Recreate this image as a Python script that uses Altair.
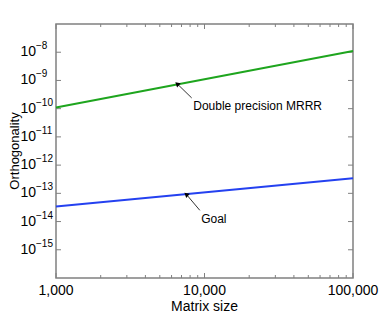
import altair as alt
import pandas as pd

# ---- data ----
sizes = [1000, 100000]
mrrr = [1.1e-10, 1.1e-8]
goal = [3.4e-14, 3.4e-13]

x_major = [1000, 10000, 100000]
x_labels = ["1,000", "10,000", "100,000"]
x_minor = [2000, 3000, 4000, 5000, 6000, 7000, 8000, 9000,
           20000, 30000, 40000, 50000, 60000, 70000, 80000, 90000]
y_exps = [-15, -14, -13, -12, -11, -10, -9, -8]

ann_text = ["Double precision MRRR", "Goal"]
ann_head_x = [6600, 7600]
ann_head_y = [7.3e-10, 8.8e-14]
ann_tail_x = [8200, 9300]
ann_tail_y = [2.4e-10, 2.5e-14]
ann_text_x = [8400, 9500]
ann_text_y = [1.2e-10, 1.25e-14]

FONT = "Liberation Sans"
W, H = 297, 254

xs = alt.Scale(type="log", domain=[1000, 100000])
ys = alt.Scale(type="log", domain=[1e-16, 1e-7])

lines = pd.DataFrame({
    "size": sizes * 2,
    "val": mrrr + goal,
    "series": ["MRRR"] * 2 + ["Goal"] * 2,
})

X = alt.X("size:Q", scale=xs, axis=None)
Y = alt.Y("val:Q", scale=ys, axis=None)

line_layer = alt.Chart(lines).mark_line(strokeWidth=2).encode(
    x=X, y=Y,
    color=alt.Color("series:N", scale=alt.Scale(domain=["MRRR", "Goal"],
                                               range=["#1ea51e", "#2441f0"]),
                    legend=None),
)

# x labels and title
xlab = pd.DataFrame({"size": x_major, "lab": x_labels})
x_lab_layer = alt.Chart(xlab).mark_text(font=FONT, fontSize=14, align="center",
                                        baseline="alphabetic", color="#000").encode(
    x=alt.X("size:Q", scale=xs, axis=None), y=alt.value(H + 17), text="lab:N")
xtitle = alt.Chart(pd.DataFrame({"t": ["Matrix size"]})).mark_text(
    font=FONT, fontSize=14, align="center", baseline="alphabetic", color="#000"
).encode(x=alt.value(W / 2), y=alt.value(H + 33), text="t:N")

# ticks (inward) on x: bottom and top
tick_col = "#808080"
xt_major = pd.DataFrame({"size": x_major})
xt_minor = pd.DataFrame({"size": x_minor})
xtb_major = alt.Chart(xt_major).mark_rule(color=tick_col, strokeWidth=1).encode(
    x=alt.X("size:Q", scale=xs, axis=None), y=alt.value(H), y2=alt.value(H - 5))
xtb_minor = alt.Chart(xt_minor).mark_rule(color=tick_col, strokeWidth=1).encode(
    x=alt.X("size:Q", scale=xs, axis=None), y=alt.value(H), y2=alt.value(H - 3))
xtt_major = alt.Chart(xt_major).mark_rule(color=tick_col, strokeWidth=1).encode(
    x=alt.X("size:Q", scale=xs, axis=None), y=alt.value(0), y2=alt.value(5))
xtt_minor = alt.Chart(xt_minor).mark_rule(color=tick_col, strokeWidth=1).encode(
    x=alt.X("size:Q", scale=xs, axis=None), y=alt.value(0), y2=alt.value(3))

# y ticks and labels
yt = pd.DataFrame({"val": [10.0 ** e for e in y_exps],
                   "exp": ["\u2212" + str(-e) for e in y_exps]})
ytl = alt.Chart(yt).mark_rule(color=tick_col, strokeWidth=1).encode(
    y=alt.Y("val:Q", scale=ys, axis=None), x=alt.value(0), x2=alt.value(5))
ytr = alt.Chart(yt).mark_rule(color=tick_col, strokeWidth=1).encode(
    y=alt.Y("val:Q", scale=ys, axis=None), x=alt.value(W), x2=alt.value(W - 5))
ybase = alt.Chart(yt).mark_text(font=FONT, fontSize=14, align="right",
                                baseline="middle", color="#000").encode(
    y=alt.Y("val:Q", scale=ys, axis=None), x=alt.value(-20), text=alt.value("10"))
yexp = alt.Chart(yt).mark_text(font=FONT, fontSize=10, align="left",
                               baseline="middle", color="#000", dy=-6).encode(
    y=alt.Y("val:Q", scale=ys, axis=None), x=alt.value(-20), text="exp:N")

ytitle = alt.Chart(pd.DataFrame({"t": ["Orthogonality"]})).mark_text(
    font=FONT, fontSize=13, angle=270, align="center", baseline="alphabetic",
    color="#000").encode(x=alt.value(-37), y=alt.value(H / 2), text="t:N")

# annotations
ann = pd.DataFrame({"text": ann_text, "hx": ann_head_x, "hy": ann_head_y,
                    "tx": ann_tail_x, "ty": ann_tail_y,
                    "lx": ann_text_x, "ly": ann_text_y})
arrow_line = alt.Chart(ann).mark_rule(color="#000", strokeWidth=0.8).encode(
    x=alt.X("hx:Q", scale=xs, axis=None), y=alt.Y("hy:Q", scale=ys, axis=None),
    x2="tx:Q", y2="ty:Q")
arrow_head = alt.Chart(ann).mark_point(shape="triangle", filled=True, color="#000",
                                       size=30, angle=311, opacity=1).encode(
    x=alt.X("hx:Q", scale=xs, axis=None), y=alt.Y("hy:Q", scale=ys, axis=None))
ann_label = alt.Chart(ann).mark_text(font=FONT, fontSize=12, align="left",
                                     baseline="middle", color="#000").encode(
    x=alt.X("lx:Q", scale=xs, axis=None), y=alt.Y("ly:Q", scale=ys, axis=None),
    text="text:N")

chart = alt.layer(
    xtb_major, xtb_minor, xtt_major, xtt_minor, ytl, ytr,
    line_layer, x_lab_layer, xtitle, ybase, yexp, ytitle,
    arrow_line, arrow_head, ann_label,
).properties(
    width=W, height=H,
    autosize=alt.AutoSizeParams(type="none"),
    padding={"left": 48, "top": 16, "right": 29, "bottom": 36},
    background="white",
).configure_view(stroke="#808080", strokeWidth=1.5)

chart.save("out.html", embed_options={"renderer": "svg", "actions": False})
